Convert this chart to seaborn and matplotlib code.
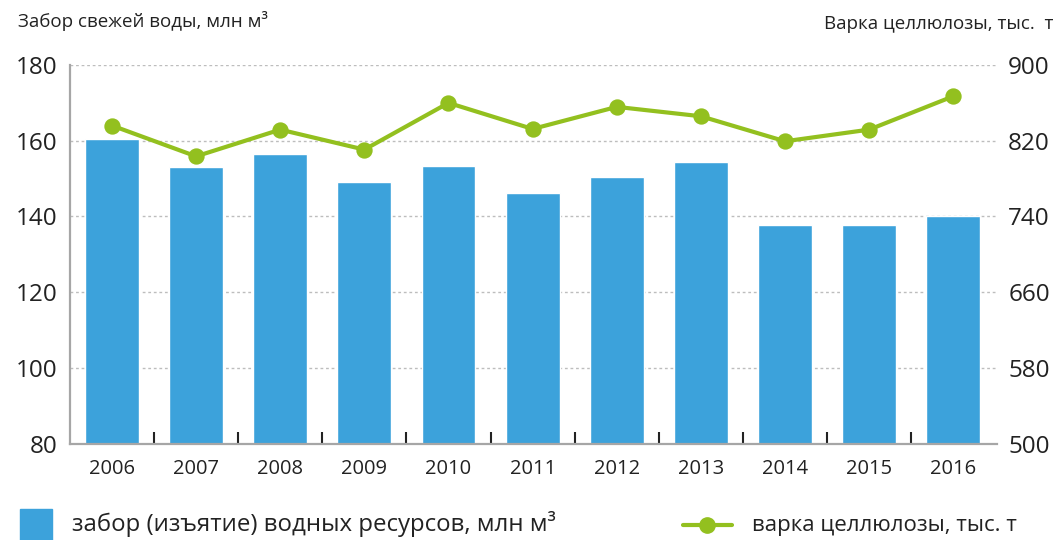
import matplotlib
matplotlib.use("Agg")
import matplotlib.pyplot as plt
import numpy as np
import pandas as pd
import seaborn as sns
from matplotlib.patches import Rectangle
from matplotlib.lines import Line2D
from matplotlib.ticker import FixedLocator

# data
years = ["2006", "2007", "2008", "2009", "2010", "2011",
         "2012", "2013", "2014", "2015", "2016"]
water_intake = [160.5, 153.1, 156.6, 149.2, 153.4, 146.2,
                150.5, 154.4, 137.8, 137.8, 140.0]   # mln m3
pulp_cooking = [835.9, 803.4, 831.6, 810.5, 859.8, 832.3,
                855.6, 845.7, 819.3, 831.6, 866.8]   # thousand t

left_ticks = [80, 100, 120, 140, 160, 180]
right_ticks = [500, 580, 660, 740, 820, 900]

bar_color = "#3ca2db"
line_color = "#93c01f"
text_color = "#222222"

sns.set_theme(style="white")
plt.rcParams["font.family"] = ["Open Sans", "DejaVu Sans"]

df = pd.DataFrame({"year": years, "water": water_intake, "pulp": pulp_cooking})

fig = plt.figure(figsize=(10.59, 5.40), dpi=100)
ax = fig.add_axes([0.066, 0.178, 0.8755, 0.702])

sns.barplot(data=df, x="year", y="water", color=bar_color, width=0.64,
            saturation=1, ax=ax)

ax2 = ax.twinx()
sns.pointplot(data=df, x="year", y="pulp", color=line_color, ax=ax2,
              markers="o", markersize=9.5, linewidth=3)

# left axis
ax.set_ylim(80, 180)
ax.set_xlim(-0.5, 10.52)
ax.set_yticks(left_ticks)
ax.set_axisbelow(True)
ax.yaxis.grid(True, linestyle=(0, (2, 2)), color="#bdbdbd", linewidth=1)
ax.set_xlabel("")
ax.set_ylabel("")
for side in ["top", "right"]:
    ax.spines[side].set_visible(False)
for side in ["left", "bottom"]:
    ax.spines[side].set_color("#a6a6a6")
    ax.spines[side].set_linewidth(1.6)
ax.tick_params(axis="y", length=0, pad=9, labelsize=17.5, labelcolor=text_color)
ax.tick_params(axis="x", which="major", length=0, pad=11, labelsize=14.5,
               labelcolor=text_color)

# right axis
ax2.set_ylim(500, 900)
ax2.set_xlim(-0.5, 10.52)
ax2.set_yticks(right_ticks)
ax2.set_xlabel("")
ax2.set_ylabel("")
for side in ["top", "right", "left", "bottom"]:
    ax2.spines[side].set_visible(False)
ax2.tick_params(axis="y", length=0, pad=8, labelsize=17.5, labelcolor=text_color)

# separator ticks between years (set after both plots, x axis is shared)
ax.xaxis.set_minor_locator(FixedLocator(np.arange(len(years) - 1) + 0.5))
ax.tick_params(axis="x", which="minor", bottom=True, direction="in",
               length=9, width=1.5, color="#222222")

# axis titles
fig.text(0.017, 0.962, "Забор свежей воды, млн м³", fontsize=13.5,
         color=text_color, ha="left", va="center")
fig.text(0.995, 0.955, "Варка целлюлозы, тыс.  т", fontsize=13.5,
         color=text_color, ha="right", va="center")

# legend
fig.patches.append(Rectangle((20 / 1059, 0), 32 / 1059, 31 / 540,
                             transform=fig.transFigure, color=bar_color))
fig.text(72 / 1059, 0.016, "забор (изъятие) водных ресурсов, млн м³",
         fontsize=17.3, color=text_color, ha="left", va="baseline")
fig.lines.append(Line2D([683 / 1059, 732 / 1059], [15 / 540, 15 / 540],
                        transform=fig.transFigure, color=line_color,
                        linewidth=3))
fig.lines.append(Line2D([707 / 1059], [15 / 540], transform=fig.transFigure,
                        color=line_color, marker="o", markersize=11,
                        linestyle="none"))
fig.text(752 / 1059, 0.016, "варка целлюлозы, тыс. т",
         fontsize=16, color=text_color, ha="left", va="baseline")

fig.savefig("out.png", dpi=100)
